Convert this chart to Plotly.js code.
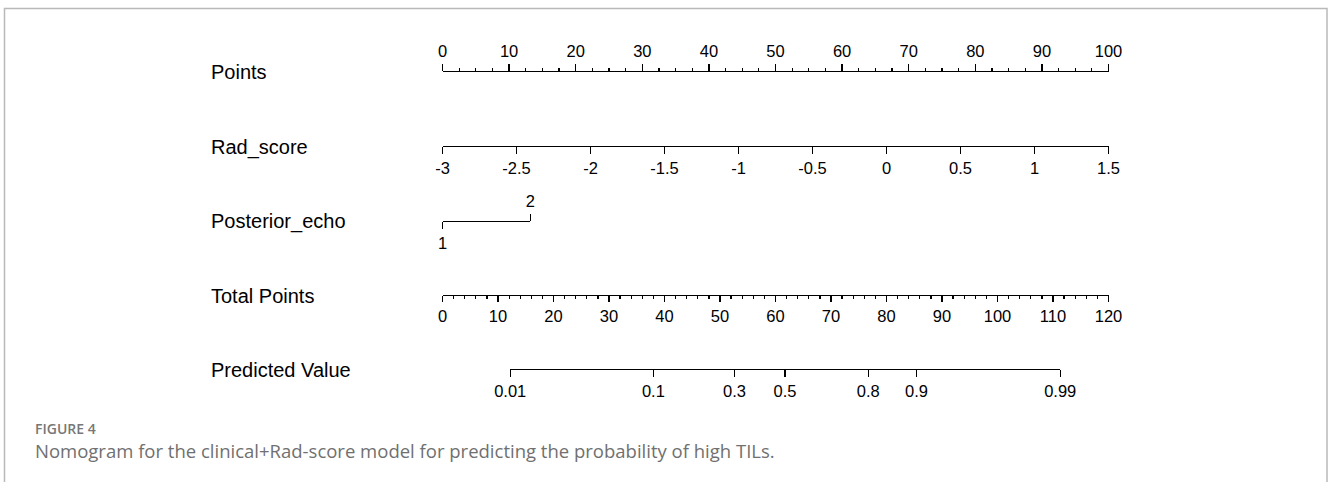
<!DOCTYPE html>
<html><head><meta charset="utf-8">
<script src="https://cdn.plot.ly/plotly-3.0.1.min.js"></script>
<style>html,body{margin:0;padding:0;background:#fff}#chart{width:1328px;height:482px}</style>
</head><body><div id="chart"></div>
<script>
// ---- data ----
const rowLabels = ["Points", "Rad_score", "Posterior_echo", "Total Points", "Predicted Value"];
const pointsTicks = [0, 10, 20, 30, 40, 50, 60, 70, 80, 90, 100];
const pointsTickLabels = ["0", "10", "20", "30", "40", "50", "60", "70", "80", "90", "100"];
const radScoreValues = [-3, -2.5, -2, -1.5, -1, -0.5, 0, 0.5, 1, 1.5];
const radScoreLabels = ["-3", "-2.5", "-2", "-1.5", "-1", "-0.5", "0", "0.5", "1", "1.5"];
const radScorePoints = [0, 100];            // points at Rad_score -3 and 1.5
const posteriorEchoLevels = ["1", "2"];
const posteriorEchoPoints = [0, 13.2];      // points for level 1 and 2
const totalPointsTicks = [0, 10, 20, 30, 40, 50, 60, 70, 80, 90, 100, 110, 120];
const totalPointsLabels = ["0", "10", "20", "30", "40", "50", "60", "70", "80", "90", "100", "110", "120"];
const predictedLabels = ["0.01", "0.1", "0.3", "0.5", "0.8", "0.9", "0.99"];
const predictedTotalPoints = [12.2, 38.0, 52.6, 61.7, 76.7, 85.4, 111.3];

// ---- layout geometry (pixels) ----
const W = 1328, H = 482;
const X0 = 442.5, X1 = 1108.5;             // pixel span of the points scale
const pointsMax = pointsTicks[pointsTicks.length - 1];
const totalMax = totalPointsTicks[totalPointsTicks.length - 1];
const ptPx = p => X0 + (X1 - X0) * p / pointsMax;
const tpPx = t => X0 + (X1 - X0) * t / totalMax;
const fx = px => px / W;
const fy = py => 1 - py / H;
const rowY = [70.7, 146, 220.5, 295, 369];

const tickFont = {family: "Liberation Sans, Arial, sans-serif", size: 16.5, color: "#000"};
function axis(extra) {
  return Object.assign({
    showgrid: false, zeroline: false, showline: true, linecolor: "#000", linewidth: 1.3,
    ticks: "outside", ticklen: 7, tickwidth: 1.3, tickcolor: "#000", tickfont: tickFont,
    anchor: "free", fixedrange: true, tickangle: 0, tickmode: "array", automargin: false
  }, extra);
}

const layout = {
  width: W, height: H, margin: {l: 0, r: 0, t: 0, b: 0},
  paper_bgcolor: "#fff", plot_bgcolor: "rgba(0,0,0,0)", showlegend: false,
  yaxis: {visible: false, range: [0, 1], domain: [0, 1], fixedrange: true},
  xaxis: axis({domain: [fx(ptPx(0)), fx(ptPx(pointsMax))], range: [0, pointsMax], side: "top",
    position: fy(rowY[0]), tickvals: pointsTicks, ticktext: pointsTickLabels,
    minor: {tickmode: "linear", tick0: 0, dtick: 2.5, ticks: "outside", ticklen: 3, tickwidth: 1.2, tickcolor: "#000", showgrid: false}}),
  xaxis2: axis({domain: [fx(ptPx(radScorePoints[0])), fx(ptPx(radScorePoints[1]))],
    range: [radScoreValues[0], radScoreValues[radScoreValues.length - 1]], side: "bottom",
    position: fy(rowY[1]), tickvals: radScoreValues, ticktext: radScoreLabels}),
  xaxis3: axis({domain: [fx(ptPx(posteriorEchoPoints[0])), fx(ptPx(posteriorEchoPoints[1]))],
    range: [posteriorEchoPoints[0], posteriorEchoPoints[1]], side: "bottom",
    position: fy(rowY[2]), tickvals: [posteriorEchoPoints[0]], ticktext: [posteriorEchoLevels[0]]}),
  xaxis4: axis({domain: [fx(ptPx(posteriorEchoPoints[0])), fx(ptPx(posteriorEchoPoints[1]))],
    range: [posteriorEchoPoints[0], posteriorEchoPoints[1]], side: "top", showline: false,
    position: fy(rowY[2]), tickvals: [posteriorEchoPoints[1]], ticktext: [posteriorEchoLevels[1]]}),
  xaxis5: axis({domain: [fx(tpPx(0)), fx(tpPx(totalMax))], range: [0, totalMax], side: "bottom",
    position: fy(rowY[3]), tickvals: totalPointsTicks, ticktext: totalPointsLabels, ticklen: 6,
    minor: {tickmode: "linear", tick0: 0, dtick: 2, ticks: "outside", ticklen: 3, tickwidth: 1.2, tickcolor: "#000", showgrid: false}}),
  xaxis6: axis({domain: [fx(tpPx(predictedTotalPoints[0])), fx(tpPx(predictedTotalPoints[predictedTotalPoints.length - 1]))],
    range: [predictedTotalPoints[0], predictedTotalPoints[predictedTotalPoints.length - 1]], side: "bottom",
    position: fy(rowY[4]), tickvals: predictedTotalPoints, ticktext: predictedLabels}),
  annotations: [],
  shapes: [{type: "rect", xref: "paper", yref: "paper", x0: fx(4.5), x1: fx(1327), y0: -0.05, y1: fy(8.5),
    line: {color: "#b9b9b9", width: 1.5}, fillcolor: "rgba(0,0,0,0)", layer: "below"}]
};

rowLabels.forEach((t, i) => layout.annotations.push({
  text: t, xref: "paper", yref: "paper", x: fx(209), y: fy(rowY[i] + 1), xanchor: "left", yanchor: "middle",
  showarrow: false, font: {family: "Liberation Sans, Arial, sans-serif", size: 20, color: "#000"}
}));
layout.annotations.push({
  text: "FIGURE 4", xref: "paper", yref: "paper", x: fx(33), y: fy(428.5), xanchor: "left", yanchor: "middle",
  showarrow: false, font: {family: "Open Sans, sans-serif", size: 14, color: "#777", weight: 600}
});
layout.annotations.push({
  text: "Nomogram for the clinical+Rad-score model for predicting the probability of high TILs.",
  xref: "paper", yref: "paper", x: fx(33), y: fy(450), xanchor: "left", yanchor: "middle",
  showarrow: false, font: {family: "Open Sans, sans-serif", size: 18.5, color: "#707070"}
});

const axisValues = [pointsTicks, radScoreValues, posteriorEchoPoints, posteriorEchoPoints, totalPointsTicks, predictedTotalPoints];
const traces = axisValues.map((vals, i) => ({
  type: "scatter", mode: "markers", x: vals, y: vals.map(() => 0.5),
  xaxis: i === 0 ? "x" : "x" + (i + 1), yaxis: "y",
  marker: {opacity: 0, size: 1}, hoverinfo: "skip", showlegend: false
}));

Plotly.newPlot("chart", traces, layout, {staticPlot: true, displayModeBar: false});
</script>
</body></html>
